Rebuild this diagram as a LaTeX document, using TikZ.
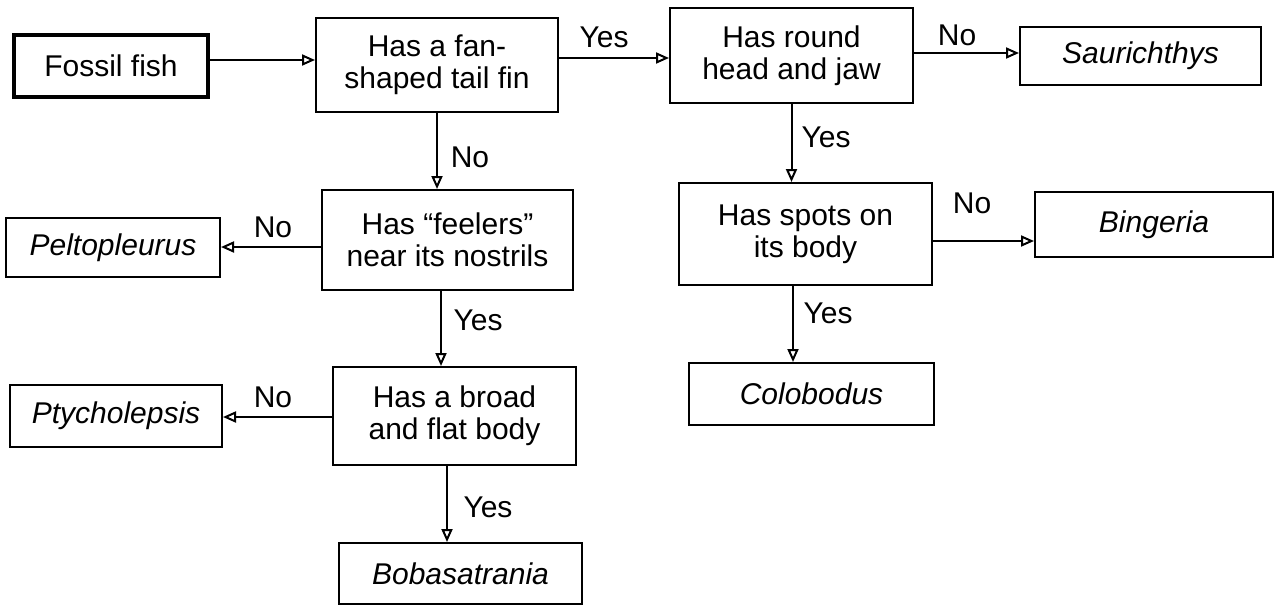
\documentclass[tikz,border=0pt]{standalone}
\usepackage{fontspec}
\setmainfont{Liberation Sans}
\usetikzlibrary{arrows.meta}
\begin{document}
\begin{tikzpicture}[x=0.5pt,y=-0.5pt,
  txt/.style={font=\fontsize{15}{16}\selectfont},
  box/.style={txt, draw, line width=1pt, align=center, inner sep=0pt},
  genus/.style={box, font=\fontsize{15}{16}\selectfont\itshape},
  arr/.style={line width=1pt, -{Triangle[open,length=6.5pt,width=5.5pt]}},
  lab/.style={txt, inner sep=0pt}]
\useasboundingbox[fill=white] (0,0) rectangle (1277,605);

% question boxes
\node[box, line width=2.2pt, minimum width=97pt, minimum height=31pt] (fossil) at (111,66) {Fossil fish};
\node[box, minimum width=121pt, minimum height=47pt] (fan) at (437,65) {Has a fan-\\shaped tail fin};
\node[box, minimum width=121.5pt, minimum height=47.5pt] (round) at (791.5,55.5) {Has round\\head and jaw};
\node[box, minimum width=125.5pt, minimum height=50pt] (feelers) at (447.5,240) {Has “feelers”\\near its nostrils};
\node[box, minimum width=126.5pt, minimum height=51pt] (spots) at (805.5,234) {Has spots on\\its body};
\node[box, minimum width=121.5pt, minimum height=49pt] (broad) at (454.5,416) {Has a broad\\and flat body};

% genus boxes
\node[genus, minimum width=120.5pt, minimum height=29pt] (saur) at (1140.5,56) {Saurichthys};
\node[genus, minimum width=107pt, minimum height=29.5pt] (pelto) at (113,247.5) {Peltopleurus};
\node[genus, minimum width=119pt, minimum height=32.5pt] (bing) at (1154,224.5) {Bingeria};
\node[genus, minimum width=122.5pt, minimum height=31pt] (colob) at (811.5,394) {Colobodus};
\node[genus, minimum width=106pt, minimum height=31pt] (ptych) at (116,416) {Ptycholepsis};
\node[genus, minimum width=121.5pt, minimum height=30.5pt] (bob) at (460.5,573.5) {Bobasatrania};

% connectors
\draw[arr] ([yshift=3pt]fossil.east) -- ([yshift=3pt]fossil.east -| fan.west);
\draw[arr] ([yshift=3.5pt]fan.east) -- ([yshift=3.5pt]fan.east -| round.west);
\draw[arr] ([yshift=1.25pt]round.east) -- ([yshift=1.25pt]round.east -| saur.west);
\draw[arr] (fan.south) -- (fan.south |- feelers.north);
\draw[arr] ([yshift=-3.5pt]feelers.west) -- ([yshift=-3.5pt]feelers.west -| pelto.east);
\draw[arr] (round.south) -- (round.south |- spots.north);
\draw[arr] ([yshift=-3.5pt]spots.east) -- ([yshift=-3.5pt]spots.east -| bing.west);
\draw[arr] ([xshift=-3.25pt]feelers.south) -- ([xshift=-3.25pt]feelers.south |- broad.north);
\draw[arr] ([yshift=-0.5pt]broad.west) -- ([yshift=-0.5pt]broad.west -| ptych.east);
\draw[arr] ([xshift=-6.25pt]spots.south) -- ([xshift=-6.25pt]spots.south |- colob.north);
\draw[arr] ([xshift=-3.75pt]broad.south) -- ([xshift=-3.75pt]broad.south |- bob.north);

% branch labels
\node[lab] (l1) at (604,37) {Yes};
\node[lab] (l2) at (957,35) {No};
\node[lab] (l3) at (470,157) {No};
\node[lab] (l4) at (273,227) {No};
\node[lab] (l5) at (826,137) {Yes};
\node[lab] (l6) at (972,203) {No};
\node[lab] (l7) at (478,320) {Yes};
\node[lab] (l8) at (273,397) {No};
\node[lab] (l9) at (828,313) {Yes};
\node[lab] (l10) at (488,507) {Yes};
\end{tikzpicture}
\end{document}
